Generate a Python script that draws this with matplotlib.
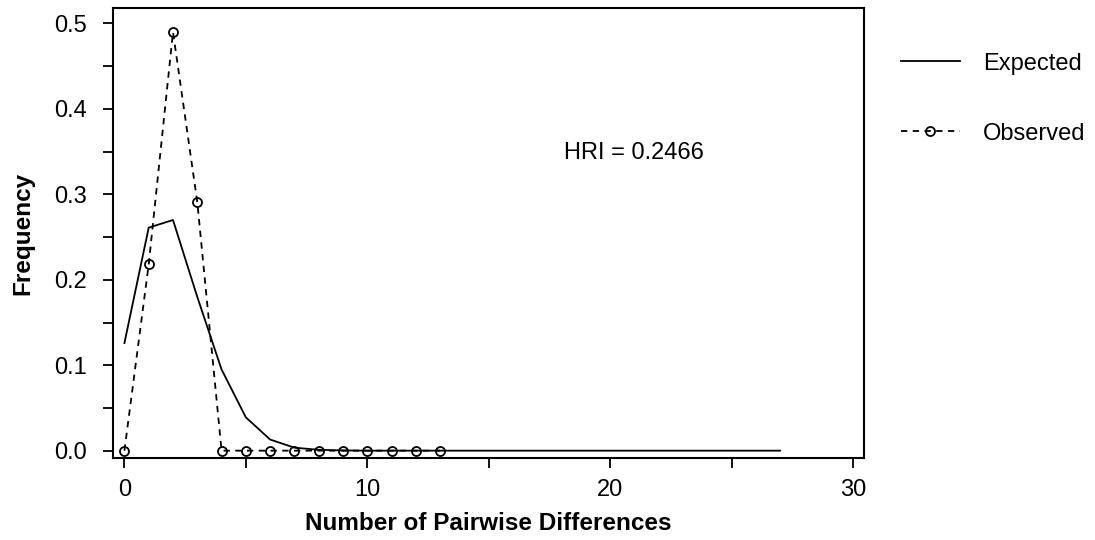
import matplotlib.pyplot as plt
from matplotlib.ticker import MultipleLocator

plt.rcParams['font.family'] = ['Liberation Sans', 'DejaVu Sans']

# pairwise differences
exp_x = list(range(0, 28))
exp_y = [0.126, 0.261, 0.270, 0.180, 0.095, 0.039, 0.013, 0.0035, 0.001, 0.0003] + [0.0] * 18

obs_x = list(range(0, 14))
obs_y = [0.0, 0.218, 0.490, 0.291, 0.0, 0.0, 0.0, 0.0, 0.0, 0.0, 0.0, 0.0, 0.0, 0.0]

hri_text = 'HRI = 0.2466'

fig = plt.figure(figsize=(10.95, 5.4), dpi=100)
ax = fig.add_axes([0.1032, 0.152, 0.6858, 0.833])

ax.plot(exp_x, exp_y, color='black', lw=1.3, label='Expected')
ax.plot(obs_x, obs_y, color='black', lw=1.3, dashes=(3.5, 3), marker='o',
        markersize=6.5, markerfacecolor='none', markeredgewidth=1.3, label='Observed')

ax.set_xlim(-0.47, 30.45)
ax.set_ylim(-0.0085, 0.518)
ax.xaxis.set_major_locator(MultipleLocator(10))
ax.xaxis.set_minor_locator(MultipleLocator(5))
ax.yaxis.set_major_locator(MultipleLocator(0.1))
ax.yaxis.set_minor_locator(MultipleLocator(0.05))
ax.yaxis.set_major_formatter(plt.FormatStrFormatter('%.1f'))
ax.tick_params(which='both', direction='out', width=1.3, length=7, labelsize=17)
ax.tick_params(axis='y', which='major', pad=12)
ax.tick_params(axis='x', which='major', pad=8)
for s in ax.spines.values():
    s.set_linewidth(1.5)

ax.set_xlabel('Number of Pairwise Differences', fontsize=17.5, fontweight='bold', labelpad=8)
ax.set_ylabel('Frequency', fontsize=17.5, fontweight='bold', labelpad=14)

ax.text(18.1, 0.348, hri_text, fontsize=17, va='center', ha='left')

fig.legend(loc='upper left', bbox_to_anchor=(0.803, 0.942), frameon=False,
           fontsize=17, handlelength=2.5, labelspacing=2.03, handletextpad=1.0)

fig.savefig('out.png', dpi=100)
